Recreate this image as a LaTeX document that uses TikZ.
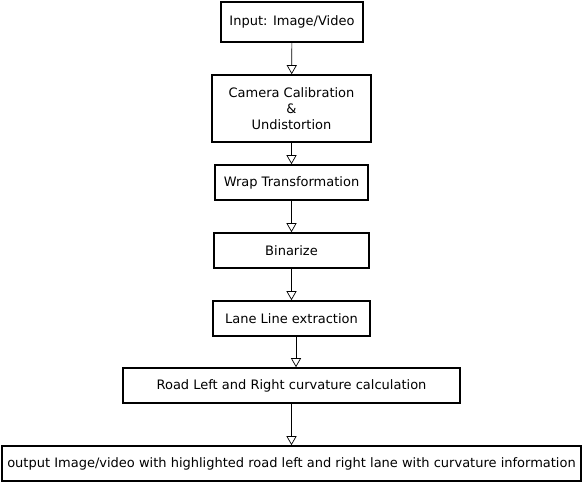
\documentclass[tikz,border=0pt]{standalone}
\usepackage{fontspec}
\setmainfont{DejaVu Sans}
\usetikzlibrary{arrows.meta}
\begin{document}
\begin{tikzpicture}[
        x=1pt, y=-1pt,
        stage/.style={draw, line width=1.6pt, inner sep=0pt, align=center,
            font=\fontsize{13pt}{16pt}\selectfont},
        flow/.style={draw, line width=0.7pt,
            -{Triangle[open, width=10pt, length=9pt, line width=0.7pt]}},
    ]
    \useasboundingbox (0,0) rectangle (583,484);
    \node[stage, minimum width=142, minimum height=40] (input) at (292,22) {Input: Image/Video};
    \node[stage, minimum width=159, minimum height=67] (calib) at (291.5,108.5) {Camera Calibration\\\&\\Undistortion};
    \node[stage, minimum width=153, minimum height=35] (wrap) at (291.5,182.5) {Wrap Transformation};
    \node[stage, minimum width=155, minimum height=35] (binar) at (291.5,250.5) {Binarize};
    \node[stage, minimum width=157, minimum height=35] (lane) at (291.5,318.5) {Lane Line extraction};
    \node[stage, minimum width=337, minimum height=35] (road) at (291.5,385.5) {Road Left and Right curvature calculation};
    \node[stage, minimum width=579, minimum height=35] (output) at (291.5,463.5) {output Image/video with highlighted road left and right lane with curvature information};
    \draw[flow] (input) -- (calib);
    \draw[flow] (calib) -- (wrap);
    \draw[flow] (wrap) -- (binar);
    \draw[flow] (binar) -- (lane);
    \draw[flow] ([xshift=4.5]lane.south) -- ([xshift=4.5]road.north);
    \draw[flow] (road) -- (output);
\end{tikzpicture}
\end{document}
